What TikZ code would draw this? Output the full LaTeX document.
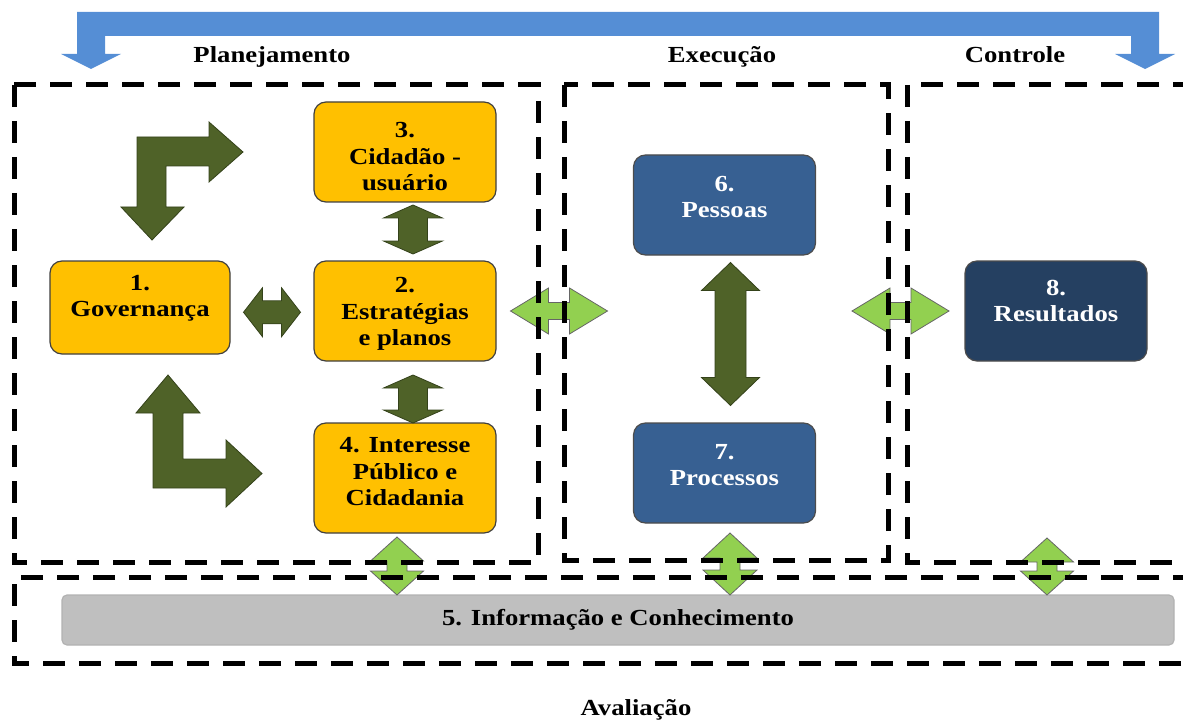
\documentclass[tikz,border=0pt]{standalone}
\usepackage{fontspec}
\setmainfont{Liberation Serif}[FakeStretch=1.16]
\usepackage{tikz}
\usetikzlibrary{calc}
\definecolor{ouro}{HTML}{FFC000}
\definecolor{azul}{HTML}{376092}
\definecolor{marinho}{HTML}{254061}
\definecolor{cinza}{HTML}{BFBFBF}
\definecolor{verde}{HTML}{4F6228}
\definecolor{verdeesc}{HTML}{34421A}
\definecolor{lima}{HTML}{92D050}
\definecolor{ceu}{HTML}{558ED5}
% horizontal double block arrow: center, half length, head length, head half height, shaft half height, style
\def\harr#1#2#3#4#5#6{\draw[#6] (#1) ++(-#2,0) -- ++(#3,-#4) -- ++(0,#4-#5) -- ++(2*#2-2*#3,0) -- ++(0,#5-#4) -- ++(#3,#4) -- ++(-#3,#4) -- ++(0,#5-#4) -- ++(2*#3-2*#2,0) -- ++(0,#4-#5) -- cycle;}
% vertical double block arrow, same arguments
\def\varr#1#2#3#4#5#6{\draw[#6] (#1) ++(0,-#2) -- ++(#4,#3) -- ++(#5-#4,0) -- ++(0,2*#2-2*#3) -- ++(#4-#5,0) -- ++(-#4,#3) -- ++(-#4,-#3) -- ++(#4-#5,0) -- ++(0,2*#3-2*#2) -- ++(#5-#4,0) -- cycle;}
\tikzstyle{txt}=[font=\fontsize{23}{26.5}\selectfont\bfseries,align=center,inner sep=0pt]
\tikzstyle{head}=[txt,anchor=base]
\tikzstyle{box}=[rounded corners=12pt,line width=1.2pt,minimum width=182pt,minimum height=100pt,inner sep=0pt]
\tikzstyle{obox}=[box,fill=ouro,draw=black!75]
\tikzstyle{bbox}=[box,fill=azul,draw=black!70]
\tikzstyle{frame}=[line width=5pt,dash pattern=on 22pt off 14pt]
\tikzstyle{darr}=[fill=verde,draw=verdeesc,line width=0.8pt]
\tikzstyle{larr}=[fill=lima,draw=black!60,line width=0.8pt]

\begin{document}
\begin{tikzpicture}[x=1pt,y=-1pt]
  \useasboundingbox (0,0) rectangle (1183,722);
  % ciclo superior
  \fill[ceu] (77,12) -- (1159,12) -- (1159,54) -- (1175,54) -- (1145,69) -- (1115,54) -- (1131,54)
    -- (1131,36) -- (105,36) -- (105,54) -- (121,54) -- (91,69) -- (61,54) -- (77,54) -- cycle;
  \node[head] (plan) at (272,63) {Planejamento};
  \node[head] (exec) at (722,63) {Execução};
  \node[head] (ctrl) at (1015,63) {Controle};
  \node[head] (aval) at (636,715) {Avaliação};

  % caixas
  \node[obox,minimum width=180pt,minimum height=93pt] (gov) at (140,307.5) {};
  \node[txt] (gov-t) at ([yshift=9pt]gov.center) {1.\\Governança};
  \node[obox] (cid) at (405,152) {};
  \node[txt] (cid-t) at ([yshift=-5pt]cid.center) {3.\\Cidadão -\\usuário};
  \node[obox] (estr) at (405,311) {};
  \node[txt] (estr-t) at ([yshift=-3pt]estr.center) {2.\\Estratégias\\e planos};
  \node[obox,minimum height=110pt] (inter) at (405,478) {};
  \node[txt] (inter-t) at ([yshift=6pt]inter.center) {4. Interesse\\Público e\\Cidadania};
  \node[bbox] (pess) at (724.5,205) {};
  \node[txt,text=white] (pess-t) at ([yshift=8pt]pess.center) {6.\\Pessoas};
  \node[bbox] (proc) at (724.5,473) {};
  \node[txt,text=white] (proc-t) at ([yshift=8pt]proc.center) {7.\\Processos};
  \node[bbox,fill=marinho] (res) at (1056,311) {};
  \node[txt,text=white] (res-t) at ([yshift=10pt]res.center) {8.\\Resultados};
  \node[box,fill=cinza,draw=black!30,rounded corners=5pt,minimum width=1112pt,minimum height=50pt] (info) at (618,620) {};
  \node[txt] (info-t) at (info.center) {5. Informação e Conhecimento};

  % setas escuras
  \coordinate (a12) at ($(gov.east)!.5!(estr.west)+(0,3)$);
  \harr{a12}{28.5}{19}{24.5}{11.5}{darr}
  \coordinate (a32) at ($(cid.south)!.5!(estr.north)+(8,-2)$);
  \varr{a32}{24.5}{13}{29.5}{14.5}{darr}
  \coordinate (a24) at ($(estr.south)!.5!(inter.north)+(8,7)$);
  \varr{a24}{24}{13}{29.5}{14.5}{darr}
  \coordinate (a67) at ($(pess.south)!.5!(proc.north)+(6,-5)$);
  \varr{a67}{71.5}{28}{29}{15.5}{darr}
  \draw[darr] (152,240) -- (184,207) -- (166,207) -- (166,166) -- (209,166) -- (209,182) -- (243,152)
    -- (209,122) -- (209,137) -- (137,137) -- (137,207) -- (121,207) -- cycle;
  \draw[darr] (168,375) -- (200,413) -- (183,413) -- (183,459) -- (226,459) -- (226,440) -- (262,473.5)
    -- (226,507) -- (226,488) -- (153,488) -- (153,413) -- (136,413) -- cycle;

  % setas claras
  \coordinate (la1) at (559,311);
  \harr{la1}{48.5}{38}{23}{8.5}{larr}
  \coordinate (la2) at (900.5,311);
  \harr{la2}{48.5}{38}{23}{8.5}{larr}
  \coordinate (lv1) at (397,566);
  \varr{lv1}{29}{24}{26.5}{10}{larr}
  \coordinate (lv2) at (730,564);
  \varr{lv2}{31}{25}{27}{10}{larr}
  \coordinate (lv3) at (1047,566.5);
  \varr{lv3}{28.5}{24}{26.5}{10}{larr}

  % molduras
  \draw[frame] (14,85) rectangle (538,562);
  \draw[frame] (564,85) rectangle (888,560);
  \draw[frame] (1195,85) -- (907,85) -- (907,562) -- (1195,562);
  \draw[frame] (1195,577) -- (14,577) -- (14,663) -- (1195,663);
\end{tikzpicture}
\end{document}
